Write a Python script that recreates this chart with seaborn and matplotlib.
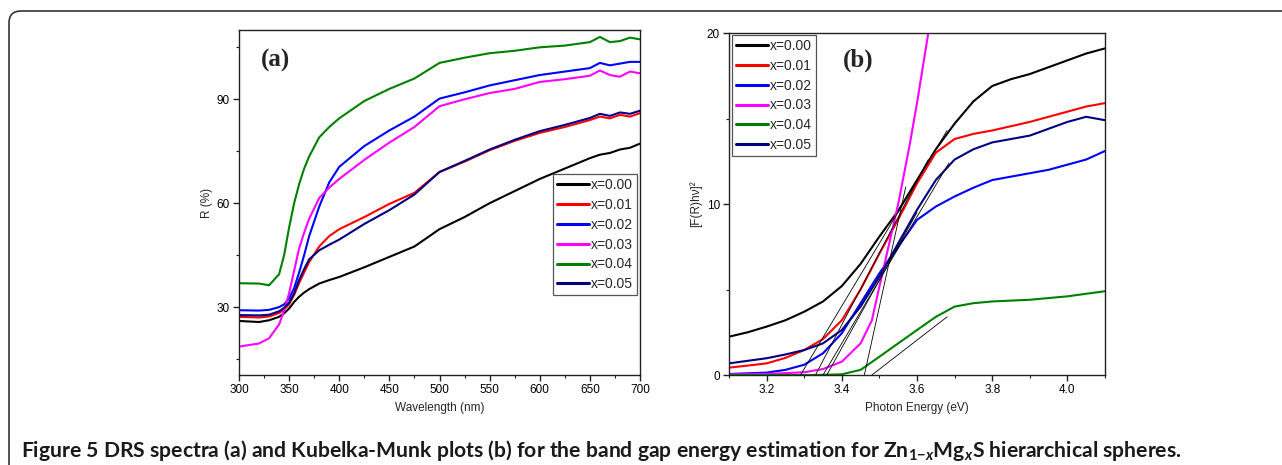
import matplotlib
matplotlib.use('Agg')
import matplotlib.pyplot as plt
import pandas as pd
import seaborn as sns
from matplotlib.lines import Line2D
from matplotlib.patches import FancyBboxPatch
from matplotlib.ticker import MultipleLocator

# ---------------- data ----------------
labels = ['x=0.00', 'x=0.01', 'x=0.02', 'x=0.03', 'x=0.04', 'x=0.05']
colors = ['#000000', '#ff0000', '#0000ff', '#ff00ff', '#008000', '#000080']

# (a) DRS spectra: wavelength (nm) vs R (%)
wl = [300, 320, 330, 340, 345, 350, 355, 360, 365, 370, 380, 390, 400, 425,
      450, 475, 500, 525, 550, 575, 600, 625, 650, 660, 670, 680, 690, 700]
R_000 = [26.0, 25.7, 26.2, 27.2, 28.2, 29.6, 31.5, 33.0, 34.2, 35.2, 36.8, 37.8, 38.7, 41.5,
         44.5, 47.5, 52.5, 56.0, 60.0, 63.5, 67.0, 70.0, 73.0, 74.0, 74.5, 75.5, 76.0, 77.2]
R_001 = [27.2, 27.0, 27.3, 28.3, 29.3, 30.8, 33.5, 37.0, 40.0, 43.0, 47.5, 50.5, 52.5, 56.0,
         59.8, 63.0, 69.0, 72.0, 75.3, 78.0, 80.3, 82.0, 84.0, 85.0, 84.5, 85.5, 85.0, 86.0]
R_002 = [29.1, 29.0, 29.2, 30.0, 30.8, 32.5, 35.5, 40.0, 45.0, 50.5, 59.0, 66.0, 70.5, 76.5,
         81.0, 85.0, 90.2, 92.0, 94.0, 95.5, 97.0, 98.0, 99.0, 100.5, 99.8, 100.3, 100.8, 100.8]
R_003 = [18.6, 19.5, 21.0, 25.0, 29.0, 34.0, 40.5, 47.0, 51.5, 55.5, 61.5, 64.5, 67.0, 72.5,
         77.5, 82.0, 88.0, 90.0, 91.8, 93.0, 95.0, 95.8, 96.8, 98.3, 97.0, 96.5, 98.0, 97.5]
R_004 = [36.9, 36.8, 36.3, 39.5, 45.0, 53.0, 60.0, 65.5, 70.0, 73.5, 79.0, 82.0, 84.5, 89.5,
         93.0, 96.0, 100.5, 102.0, 103.3, 104.0, 105.0, 105.5, 106.5, 108.0, 106.5, 106.8, 107.8, 107.3]
R_005 = [27.7, 27.6, 27.8, 28.8, 29.8, 31.3, 34.0, 37.8, 41.0, 43.8, 46.4, 48.0, 49.5, 54.0,
         58.0, 62.5, 69.0, 72.2, 75.5, 78.3, 80.8, 82.6, 84.6, 85.8, 85.2, 86.2, 85.8, 86.7]
R_series = [R_000, R_001, R_002, R_003, R_004, R_005]

# (b) Kubelka-Munk: photon energy (eV) vs [F(R)hv]^2
E = [3.10, 3.15, 3.20, 3.25, 3.30, 3.35, 3.40, 3.45, 3.50, 3.55, 3.60,
     3.65, 3.70, 3.75, 3.80, 3.85, 3.90, 3.95, 4.00, 4.05, 4.10]
KM_000 = [2.24, 2.5, 2.83, 3.2, 3.7, 4.3, 5.2, 6.5, 8.1, 9.6, 11.4,
          13.2, 14.7, 16.0, 16.9, 17.3, 17.6, 18.0, 18.4, 18.8, 19.1]
KM_001 = [0.43, 0.55, 0.68, 1.0, 1.46, 2.1, 3.2, 5.0, 7.1, 9.1, 11.2,
          13.0, 13.8, 14.1, 14.3, 14.55, 14.8, 15.1, 15.4, 15.7, 15.9]
KM_002 = [0.06, 0.1, 0.14, 0.3, 0.6, 1.27, 2.44, 4.2, 5.95, 7.5, 9.07,
          9.85, 10.44, 10.95, 11.4, 11.6, 11.8, 12.0, 12.3, 12.6, 13.1]
E_003 = [3.10, 3.20, 3.30, 3.35, 3.40, 3.45, 3.48, 3.50, 3.52, 3.55, 3.58, 3.60, 3.63, 3.65]
KM_003 = [0.04, 0.06, 0.16, 0.35, 0.78, 1.85, 3.2, 5.17, 7.1, 10.0, 13.4, 15.9, 20.0, 22.5]
KM_004 = [0.0, 0.0, 0.0, 0.0, 0.0, 0.01, 0.04, 0.3, 1.07, 1.85, 2.63,
          3.4, 4.0, 4.2, 4.3, 4.35, 4.4, 4.5, 4.6, 4.75, 4.9]
KM_005 = [0.68, 0.83, 0.98, 1.2, 1.46, 1.85, 2.63, 4.0, 5.75, 7.7, 9.66,
          11.4, 12.6, 13.2, 13.6, 13.8, 14.0, 14.4, 14.8, 15.1, 14.9]
KM_x = [E, E, E, E_003, E, E]
KM_series = [KM_000, KM_001, KM_002, KM_003, KM_004, KM_005]

# tangent (band-gap extrapolation) lines: from (start, 0) to (end, end_value)
tan_start = [3.29, 3.33, 3.35, 3.36, 3.46, 3.48]
tan_end = [3.68, 3.63, 3.685, 3.60, 3.57, 3.68]
tan_end_val = [14.3, 12.6, 12.4, 9.5, 11.0, 3.4]

caption = ('Figure 5 DRS spectra (a) and Kubelka-Munk plots (b) for the band gap energy '
           'estimation for Zn$_{1{\u2212}x}$Mg$_x$S hierarchical spheres.')

# ---------------- style ----------------
sns.set_theme(style='ticks')
plt.rcParams['font.family'] = ['Liberation Sans', 'DejaVu Sans']
plt.rcParams['mathtext.fontset'] = 'custom'
plt.rcParams['mathtext.rm'] = 'Lato:bold'
plt.rcParams['mathtext.it'] = 'Lato:bold:italic'
plt.rcParams['mathtext.bf'] = 'Lato:bold'

df_a = pd.DataFrame({
    'wl': [w for s in R_series for w in wl],
    'R': [v for s in R_series for v in s],
    'sample': [lab for lab, s in zip(labels, R_series) for _ in s],
})
df_b = pd.DataFrame({
    'E': [e for xs in KM_x for e in xs],
    'KM': [v for s in KM_series for v in s],
    'sample': [lab for lab, s in zip(labels, KM_series) for _ in s],
})

fig = plt.figure(figsize=(12.82, 4.65), dpi=100)
ax1 = fig.add_axes([239 / 1282, 1 - 375 / 465, 401 / 1282, 345 / 465])
ax2 = fig.add_axes([729 / 1282, 1 - 375 / 465, 376 / 1282, 342 / 465])

sns.lineplot(data=df_a, x='wl', y='R', hue='sample', hue_order=labels, palette=colors,
             estimator=None, sort=False, lw=1.5, ax=ax1, legend=False)
sns.lineplot(data=df_b, x='E', y='KM', hue='sample', hue_order=labels, palette=colors,
             estimator=None, sort=False, lw=1.5, ax=ax2, legend=False)
for e0, e1, y1 in zip(tan_start, tan_end, tan_end_val):
    sns.lineplot(x=[e0, e1], y=[0, y1], color='black', lw=0.6, ax=ax2,
                 estimator=None, sort=False)

# axes formatting
ax1.set_xlim(300, 700)
ax1.set_ylim(10.4, 110)
ax1.xaxis.set_major_locator(MultipleLocator(50))
ax1.xaxis.set_minor_locator(MultipleLocator(25))
ax1.yaxis.set_major_locator(MultipleLocator(30))
ax1.yaxis.set_minor_locator(MultipleLocator(15))
ax1.set_xlabel('Wavelength (nm)', fontsize=8.5, labelpad=4)
ax1.set_ylabel('R (%)', fontsize=8.5, labelpad=3)

ax2.set_xlim(3.1, 4.1)
ax2.set_ylim(0, 20)
ax2.xaxis.set_major_locator(MultipleLocator(0.2))
ax2.xaxis.set_minor_locator(MultipleLocator(0.1))
ax2.yaxis.set_major_locator(MultipleLocator(10))
ax2.yaxis.set_minor_locator(MultipleLocator(5))
ax2.set_xlabel('Photon Energy (eV)', fontsize=8.5, labelpad=4)
ax2.set_ylabel('[F(R)h\u03bd]\u00b2', fontsize=8.5, labelpad=3)

for ax in (ax1, ax2):
    for sp in ax.spines.values():
        sp.set_linewidth(1.0)
        sp.set_color('#222222')
    ax.tick_params(which='major', direction='out', length=4, width=1.0,
                   labelsize=8.5, colors='#222222', labelcolor='black', pad=2.5)
    ax.tick_params(which='minor', direction='out', length=2.5, width=0.8, colors='#222222')
    ax.grid(False)

handles = [Line2D([], [], color=c, lw=2.2) for c in colors]
leg_kw = dict(fontsize=10, frameon=True, fancybox=False, framealpha=1,
              edgecolor='#555555', handlelength=2.3, handletextpad=0.15,
              labelspacing=0.42, borderpad=0.3, borderaxespad=0.0)
l1 = ax1.legend(handles, labels, loc='upper right', bbox_to_anchor=(0.993, 0.583), **leg_kw)
l2 = ax2.legend(handles, labels, loc='upper left', bbox_to_anchor=(0.008, 0.995), **leg_kw)
for l in (l1, l2):
    l.get_frame().set_linewidth(0.9)

ax1.text(0.092, 0.913, '(a)', transform=ax1.transAxes, ha='center', va='center',
         fontsize=18, fontweight='bold', family='Liberation Serif')
ax2.text(0.343, 0.921, '(b)', transform=ax2.transAxes, ha='center', va='center',
         fontsize=18, fontweight='bold', family='Liberation Serif')

# caption, scaled to span the reference width
cap_y = 1 - 450 / 465
t_cap = fig.text(21 / 1282, cap_y, caption, ha='left', va='center',
                 fontsize=12.5, fontweight='bold', family='Lato', color='#1a1a1a')
fig.canvas.draw()
r = fig.canvas.get_renderer()
w = t_cap.get_window_extent(r).width
t_cap.set_fontsize(12.5 * (1182 - 21) / w)

# rounded figure frame
frame = FancyBboxPatch((9, -40), 1330, 465 - 11 + 40,
                       boxstyle='round,pad=0,rounding_size=12',
                       transform=None, fill=False, ec='#333333', lw=1.2)
fig.add_artist(frame)

fig.savefig('out.png', dpi=100)
